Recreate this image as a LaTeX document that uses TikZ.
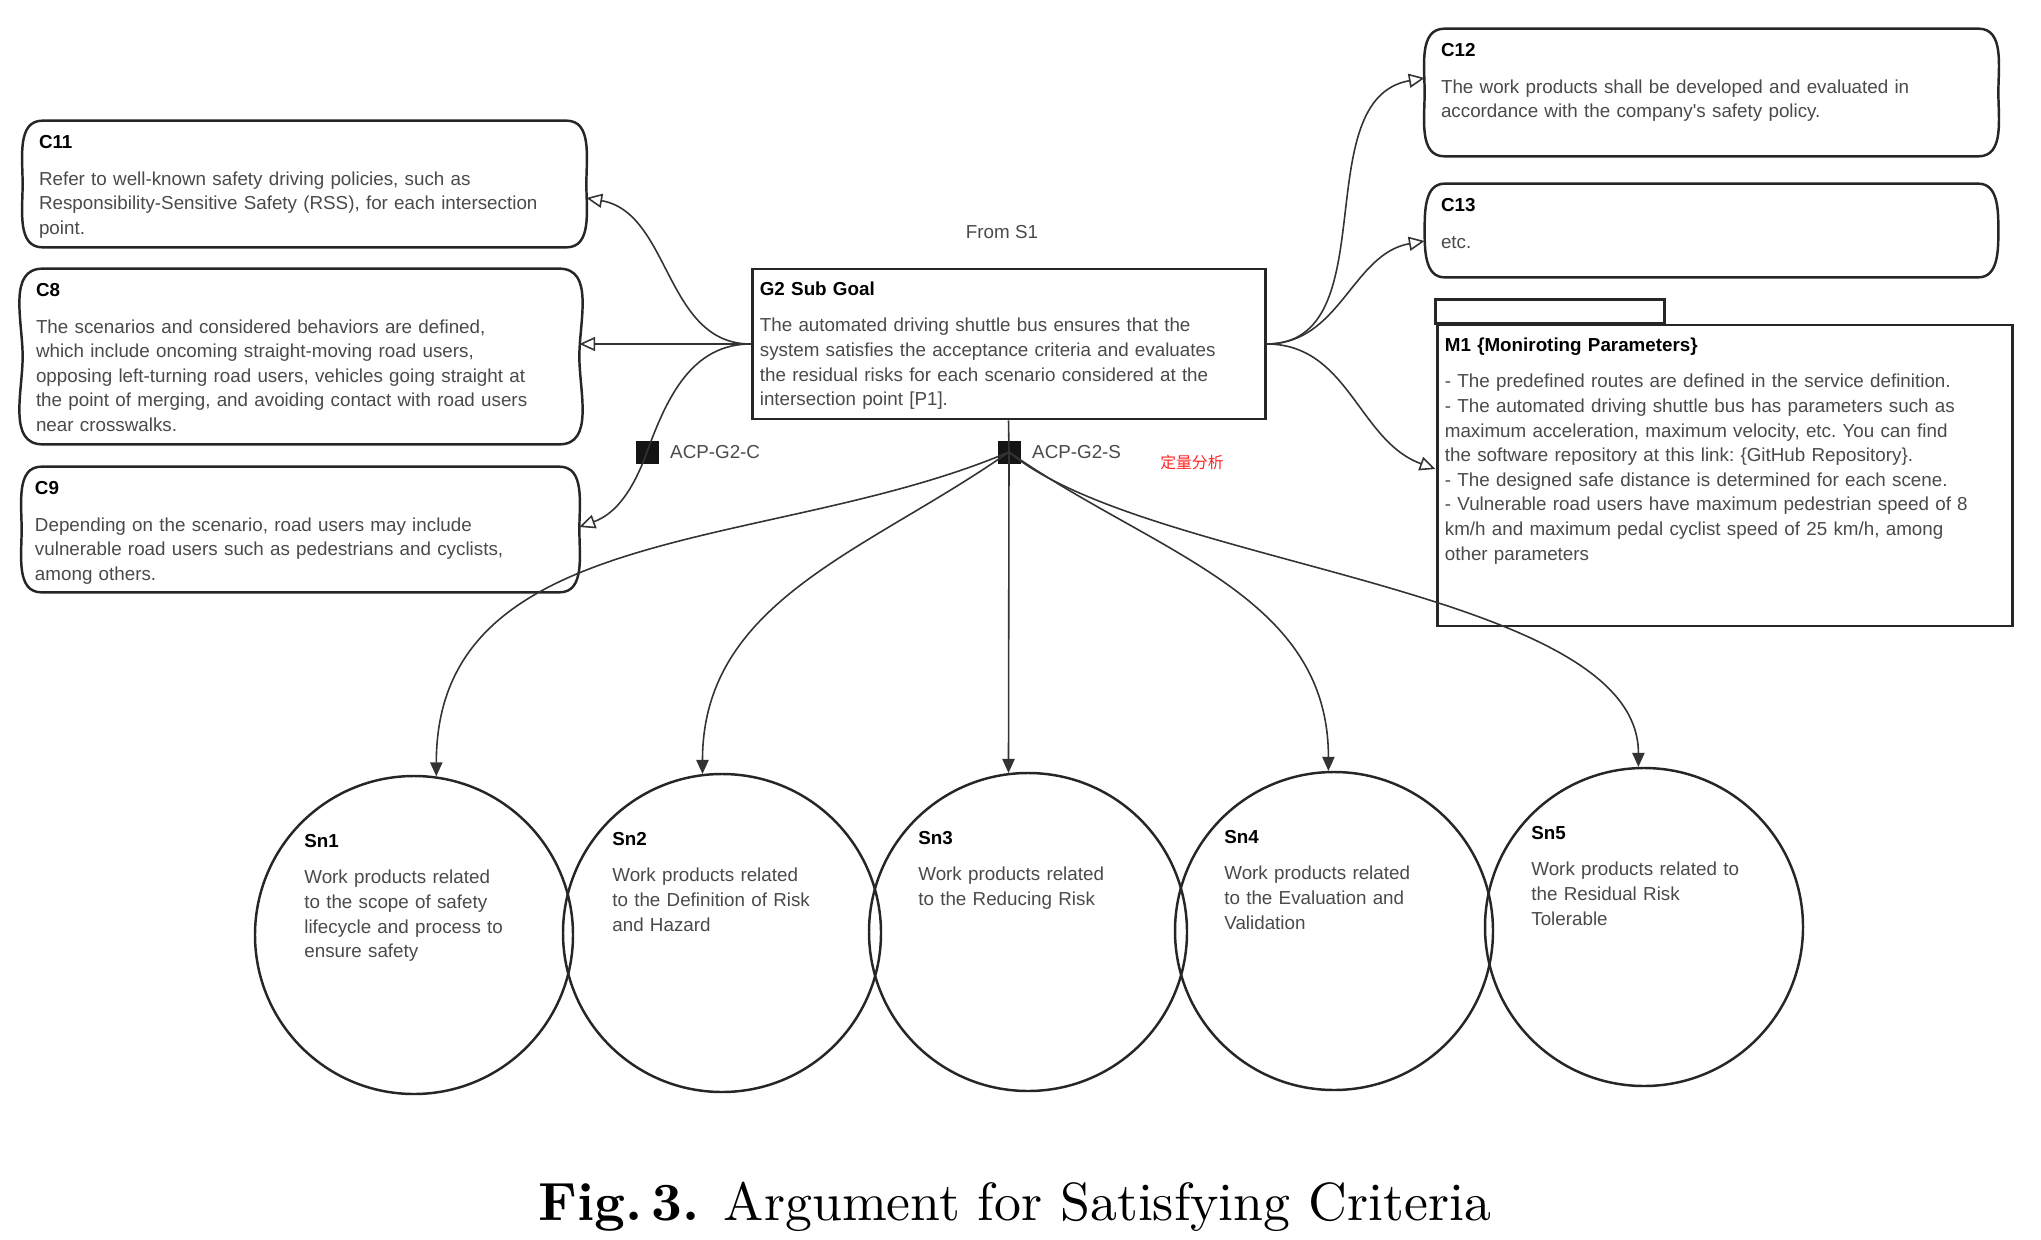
\documentclass[tikz,border=0pt]{standalone}
\usepackage{fontspec}
\usepackage{graphicx}
\usepackage{tikz}
\usetikzlibrary{arrows.meta,positioning}

\newfontfamily\gsnfont{Liberation Sans}
\newfontfamily\cjkfont{Noto Sans CJK SC}

\definecolor{txtgrey}{HTML}{4A4A4A}
\definecolor{linegrey}{HTML}{333333}
\definecolor{notered}{HTML}{FF2626}

\tikzset{
  gsntext/.style={anchor=base west, inner sep=0pt, align=left, text width=11cm,
    font=\gsnfont\fontsize{10.7}{14}\selectfont\frenchspacing, text=txtgrey},
  gsnlabel/.style={inner sep=0pt, font=\gsnfont\fontsize{10.7}{14}\selectfont, text=txtgrey},
  ctxframe/.style={rectangle, inner sep=0pt},
  ctxline/.style={line width=1.4pt, draw=black!85},
  goalbox/.style={rectangle, draw=black!85, line width=1.7pt, inner sep=0pt},
  solcircle/.style={circle, draw=black!85, line width=1.4pt, minimum size=6.36cm, inner sep=0pt},
  acpbox/.style={rectangle, fill=black!92, minimum size=0.46cm, inner sep=0pt},
  incontext/.style={draw=linegrey, line width=0.9pt, -{Triangle[open,length=9pt,width=8pt]}},
  supportedby/.style={draw=linegrey, line width=0.9pt, -{Triangle[length=8pt,width=7pt]}},
  plainlink/.style={draw=linegrey, line width=0.9pt}
}

\newcommand{\gsntitle}[1]{{\color{black}\bfseries #1}\\[7pt]}
\newcommand{\ctxoutline}[1]{%
  \draw[ctxline] ([xshift=0.4cm]#1.north west) -- ([xshift=-0.4cm]#1.north east)
    to[out=0,in=90] (#1.east) to[out=-90,in=0] ([xshift=-0.4cm]#1.south east)
    -- ([xshift=0.4cm]#1.south west) to[out=180,in=-90] (#1.west)
    to[out=90,in=180] cycle;}

\begin{document}
\begin{tikzpicture}
\path[fill=white] (0,0) rectangle (40.82,-24.8);
\useasboundingbox (0,0) rectangle (40.82,-24.8);

\node[ctxframe, minimum width=11.26cm, minimum height=2.52cm] (c11) at (6.09,-3.68) {};
\node[ctxframe, minimum width=11.12cm, minimum height=3.5cm] (c8) at (6.02,-7.13) {};
\node[ctxframe, minimum width=11.14cm, minimum height=2.5cm] (c9) at (6.01,-10.59) {};
\node[ctxframe, minimum width=11.46cm, minimum height=2.54cm] (c12) at (34.23,-1.85) {};
\node[ctxframe, minimum width=11.46cm, minimum height=1.86cm] (c13) at (34.23,-4.61) {};
\ctxoutline{c11}
\ctxoutline{c8}
\ctxoutline{c9}
\ctxoutline{c12}
\ctxoutline{c13}

\node[goalbox, minimum width=10.26cm, minimum height=3.0cm] (g2) at (20.17,-6.88) {};
\node[goalbox, minimum width=11.5cm, minimum height=6.02cm] (m1) at (34.49,-9.51) {};
\draw[goalbox] (m1.north west) rectangle ([shift={(4.58,0.48)}]m1.north west);

\node[gsntext] (c11t) at ([shift={(0.32,-0.55)}]c11.north west) {\gsntitle{C11}Refer to well-known safety driving policies, such as\\Responsibility-Sensitive Safety (RSS), for each intersection\\point.};
\node[gsntext] (c8t) at ([shift={(0.26,-0.55)}]c8.north west) {\gsntitle{C8}The scenarios and considered behaviors are defined,\\which include oncoming straight-moving road users,\\opposing left-turning road users, vehicles going straight at\\the point of merging, and avoiding contact with road users\\near crosswalks.};
\node[gsntext] (c9t) at ([shift={(0.26,-0.55)}]c9.north west) {\gsntitle{C9}Depending on the scenario, road users may include\\vulnerable road users such as pedestrians and cyclists,\\among others.};
\node[gsntext] (g2t) at ([shift={(0.18,-0.55)}]g2.north west) {\gsntitle{G2 Sub Goal}The automated driving shuttle bus ensures that the\\system satisfies the acceptance criteria and evaluates\\the residual risks for each scenario considered at the\\intersection point [P1].};
\node[gsntext] (c12t) at ([shift={(0.32,-0.55)}]c12.north west) {\gsntitle{C12}The work products shall be developed and evaluated in\\accordance with the company's safety policy.};
\node[gsntext] (c13t) at ([shift={(0.32,-0.55)}]c13.north west) {\gsntitle{C13}etc.};
\node[gsntext] (m1t) at ([shift={(0.18,-0.55)}]m1.north west) {\gsntitle{M1 \{Moniroting Parameters\}}- The predefined routes are defined in the service definition.\\- The automated driving shuttle bus has parameters such as\\maximum acceleration, maximum velocity, etc. You can find\\the software repository at this link: \{GitHub Repository\}.\\- The designed safe distance is determined for each scene.\\- Vulnerable road users have maximum pedestrian speed of 8\\km/h and maximum pedal cyclist speed of 25 km/h, among\\other parameters};

\node[gsnlabel] (froms1) at (20.04,-4.64) {From S1};
\node[acpbox] (acpc) at (12.94,-9.04) {};
\node[acpbox] (acps) at (20.18,-9.04) {};
\node[gsnlabel, right=0.22cm of acpc] (acpct) {ACP-G2-C};
\node[gsnlabel, right=0.22cm of acps] (acpst) {ACP-G2-S};
\node[inner sep=0pt, anchor=west, font=\cjkfont\fontsize{9}{11}\selectfont, text=notered] (note) at (23.2,-9.24) {定量分析};

\node[solcircle] (sn1) at (8.28,-18.7) {};
\node[solcircle] (sn2) at (14.44,-18.66) {};
\node[solcircle] (sn3) at (20.56,-18.64) {};
\node[solcircle] (sn4) at (26.68,-18.62) {};
\node[solcircle] (sn5) at (32.88,-18.54) {};
\node[gsntext, text width=5cm] (sn1t) at ([shift={(-2.2,1.76)}]sn1.center) {\gsntitle{Sn1}Work products related\\to the scope of safety\\lifecycle and process to\\ensure safety};
\node[gsntext, text width=5cm] (sn2t) at ([shift={(-2.2,1.76)}]sn2.center) {\gsntitle{Sn2}Work products related\\to the Definition of Risk\\and Hazard};
\node[gsntext, text width=5cm] (sn3t) at ([shift={(-2.2,1.76)}]sn3.center) {\gsntitle{Sn3}Work products related\\to the Reducing Risk};
\node[gsntext, text width=5cm] (sn4t) at ([shift={(-2.2,1.76)}]sn4.center) {\gsntitle{Sn4}Work products related\\to the Evaluation and\\Validation};
\node[gsntext, text width=5cm] (sn5t) at ([shift={(-2.26,1.76)}]sn5.center) {\gsntitle{Sn5}Work products related to\\the Residual Risk\\Tolerable};

\draw[incontext] (g2.west) to[out=180,in=-10] ([yshift=-0.28cm]c11.east);
\draw[incontext] (g2.west) -- (g2.west -| c8.east);
\draw[plainlink] (g2.west) to[out=180,in=70] (acpc.center);
\draw[incontext] (acpc.center) to[out=-110,in=20] ([yshift=0.05cm]c9.east);
\draw[incontext] (g2.east) to[out=0,in=190] ([yshift=0.29cm]c12.west);
\draw[incontext] (g2.east) to[out=0,in=190] ([yshift=-0.21cm]c13.west);
\draw[incontext] (g2.east) to[out=0,in=160] ([yshift=0.13cm]m1.west);

\draw[plainlink] (g2.south) -- (acps.center);
\draw[supportedby] (acps.center) to[out=203,in=90] (sn1.82);
\draw[supportedby] (acps.center) to[out=215,in=90] (sn2.97);
\draw[supportedby] (acps.center) -- (sn3.97);
\draw[supportedby] (acps.center) to[out=-35,in=90] (sn4.92);
\draw[supportedby] (acps.center) to[out=-40,in=90,looseness=0.65] (sn5.92);

\node (caption) at (20.3,-24.14) {\scalebox{3.06}{\textbf{Fig.\,3.} Argument for Satisfying Criteria}};
\end{tikzpicture}
\end{document}
